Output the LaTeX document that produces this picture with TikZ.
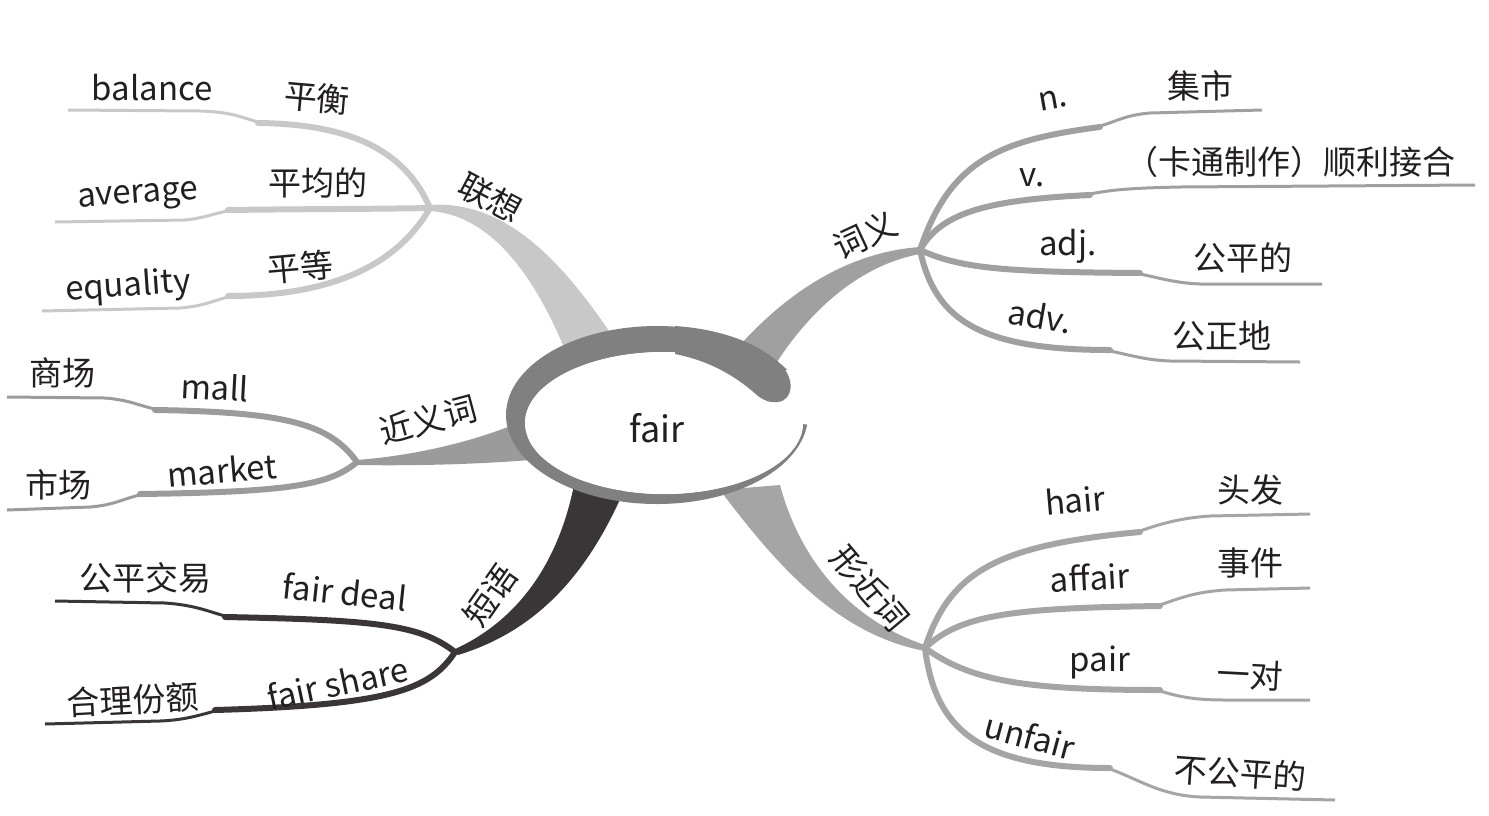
\documentclass[tikz,border=0pt]{standalone}
\usepackage{fontspec}
\setmainfont{Noto Sans CJK SC}
\definecolor{cA}{HTML}{C8C8C8}
\definecolor{cB}{HTML}{9B9B9B}
\definecolor{cC}{HTML}{3A3637}
\definecolor{cD}{HTML}{A0A0A0}
\definecolor{cE}{HTML}{A5A5A5}
\definecolor{ringc}{HTML}{808080}
\definecolor{txt}{HTML}{231F20}
\tikzset{
  lbl/.style={font=\fontsize{33}{38}\selectfont, text=txt, inner sep=0pt},
  inner/.style={line width=6pt, line cap=round},
  outer/.style={line width=3pt, line cap=butt},
}
\begin{document}
\begin{tikzpicture}[x=1pt,y=-1pt]
\useasboundingbox (0,0) rectangle (1489,815);
% junctions
\coordinate (J1) at (430,208);
\coordinate (J2) at (357,462);
\coordinate (J3) at (455,652);
\coordinate (J4) at (920,250);
\coordinate (J5) at (925,648);
% ---- main tapered branches
\fill[cA] (430,205) .. controls (505,200) and (562,260) .. (615,340) -- (565,350) .. controls (532,270) and (488,215) .. (430,211) -- cycle;
\fill[cB] (357,460) .. controls (420,455) and (480,440) .. (530,418) -- (530,460) .. controls (480,464) and (420,466) .. (357,465) -- cycle;
\fill[cC] (453,650) .. controls (520,620) and (560,560) .. (575,480) -- (625,488) .. controls (590,570) and (540,630) .. (458,655) -- cycle;
\fill[cD] (920,247) .. controls (850,252) and (790,290) .. (740,345) -- (775,365) .. controls (810,310) and (860,265) .. (920,254) -- cycle;
\fill[cE] (780,485) .. controls (800,560) and (850,620) .. (925,645) -- (925,651) .. controls (840,635) and (780,570) .. (720,490) -- cycle;
% ---- sub-branches 联想
\draw[cA,inner] (J1) .. controls (405,150) and (350,124) .. (258,123);
\draw[cA,outer] (258,122) .. controls (243,118) and (233,112) .. (200,111) -- (68,110);
\draw[cA,inner] (J1) .. controls (380,209) and (300,209) .. (228,210);
\draw[cA,outer] (228,211) .. controls (215,213) and (205,218) .. (185,220) -- (55,222);
\draw[cA,inner] (J1) .. controls (400,260) and (340,296) .. (228,296);
\draw[cA,outer] (228,297) .. controls (215,300) and (205,306) .. (180,308) -- (42,311);
% 近义词
\draw[cB,inner] (J2) .. controls (330,425) and (290,412) .. (155,410);
\draw[cB,outer] (155,409) .. controls (140,406) and (130,400) .. (105,398) -- (7,397);
\draw[cB,inner] (J2) .. controls (330,485) and (290,492) .. (140,494);
\draw[cB,outer] (140,495) .. controls (125,498) and (115,505) .. (90,507) -- (7,510);
% 短语
\draw[cC,inner] (J3) .. controls (420,625) and (380,620) .. (225,617);
\draw[cC,outer] (225,616) .. controls (210,612) and (195,605) .. (165,603) -- (55,601);
\draw[cC,inner] (J3) .. controls (430,690) and (390,705) .. (215,710);
\draw[cC,outer] (215,711) .. controls (200,715) and (185,720) .. (160,721) -- (45,724);
% 词义
\draw[cD,inner] (J4) .. controls (950,160) and (1000,140) .. (1100,127);
\draw[cD,outer] (1100,126) .. controls (1115,122) and (1125,115) .. (1150,113) -- (1262,110);
\draw[cD,inner] (J4) .. controls (940,215) and (980,200) .. (1090,195);
\draw[cD,outer] (1090,194) .. controls (1110,190) and (1130,188) .. (1180,187) -- (1475,185);
\draw[cD,inner] (J4) .. controls (960,268) and (1000,272) .. (1140,273);
\draw[cD,outer] (1140,274) .. controls (1160,278) and (1175,283) .. (1200,284) -- (1322,284);
\draw[cD,inner] (J4) .. controls (935,320) and (980,350) .. (1110,350);
\draw[cD,outer] (1110,351) .. controls (1130,355) and (1145,360) .. (1170,361) -- (1300,362);
% 形近词
\draw[cE,inner] (J5) .. controls (950,570) and (1000,545) .. (1140,532);
\draw[cE,outer] (1140,531) .. controls (1160,524) and (1180,518) .. (1210,516) -- (1310,514);
\draw[cE,inner] (J5) .. controls (960,615) and (1010,608) .. (1160,606);
\draw[cE,outer] (1160,605) .. controls (1180,598) and (1195,592) .. (1225,590) -- (1310,588);
\draw[cE,inner] (J5) .. controls (970,680) and (1020,690) .. (1160,690);
\draw[cE,outer] (1160,691) .. controls (1180,697) and (1195,700) .. (1225,700) -- (1310,700);
\draw[cE,inner] (J5) .. controls (935,730) and (980,768) .. (1110,768);
\draw[cE,outer] (1110,769) .. controls (1140,780) and (1160,795) .. (1200,797) -- (1335,800);
% ---- centre ellipse
\begin{scope}
\clip (660,420) -- (1000,285) -- (1000,0) -- (300,0) -- (300,815) -- (1000,815) -- (1000,430) -- cycle;
\fill[ringc,even odd rule] (657,415) ellipse [x radius=151, y radius=89] (664,423) ellipse [x radius=139, y radius=71];
\end{scope}
\fill[white] (664,423) ellipse [x radius=139, y radius=71];
% curled end of the ring
\fill[ringc] (675,326) .. controls (720,329) and (760,343) .. (782,366) .. controls (795,380) and (793,400) .. (778,402) .. controls (770,403) and (765,401) .. (758,396) .. controls (740,380) and (715,362) .. (675,354) -- cycle;
\node[lbl, font=\fontsize{36}{40}\selectfont] (fair) at (657,428) {fair};
% ---- labels
\node[lbl, rotate=-28] (lx) at (490,198) {联想};
\node[lbl] (balance) at (152,88) {balance};
\node[lbl, rotate=-5] (pingheng) at (317,98) {平衡};
\node[lbl, rotate=4] (average) at (138,198) {average};
\node[lbl] (pingjun) at (318,183) {平均的};
\node[lbl, rotate=4] (equality) at (128,287) {equality};
\node[lbl, rotate=5] (pingdeng) at (300,267) {平等};
\node[lbl, rotate=15] (jyc) at (428,420) {近义词};
\node[lbl] (shangchang) at (62,373) {商场};
\node[lbl, rotate=-3] (mall) at (215,387) {mall};
\node[lbl] (shichang) at (58,485) {市场};
\node[lbl, rotate=5] (market) at (222,470) {market};
\node[lbl, rotate=55] (dy) at (490,595) {短语};
\node[lbl] (gpjy) at (145,578) {公平交易};
\node[lbl, rotate=-6] (deal) at (345,592) {fair deal};
\node[lbl, rotate=3] (hlfe) at (133,700) {合理份额};
\node[lbl, rotate=12] (share) at (338,683) {fair share};
\node[lbl, rotate=25] (cy) at (865,235) {词义};
\node[lbl, rotate=10] (n) at (1053,100) {n.};
\node[lbl] (jishi) at (1200,86) {集市};
\node[lbl] (v) at (1032,178) {v.};
\node[lbl] (kt) at (1290,162) {（卡通制作）顺利接合};
\node[lbl] (adj) at (1068,246) {adj.};
\node[lbl] (gpd) at (1243,258) {公平的};
\node[lbl, rotate=-10] (adv) at (1040,316) {adv.};
\node[lbl] (gzd) at (1222,336) {公正地};
\node[lbl, rotate=-50] (xjc) at (870,588) {形近词};
\node[lbl, rotate=5] (hair) at (1075,500) {hair};
\node[lbl] (toufa) at (1250,490) {头发};
\node[lbl, rotate=3] (affair) at (1090,577) {affair};
\node[lbl] (shijian) at (1250,563) {事件};
\node[lbl] (pair) at (1100,662) {pair};
\node[lbl, rotate=-3] (yidui) at (1250,675) {一对};
\node[lbl, rotate=-15] (unfair) at (1030,736) {unfair};
\node[lbl, rotate=-4] (bgpd) at (1240,773) {不公平的};
\end{tikzpicture}
\end{document}
